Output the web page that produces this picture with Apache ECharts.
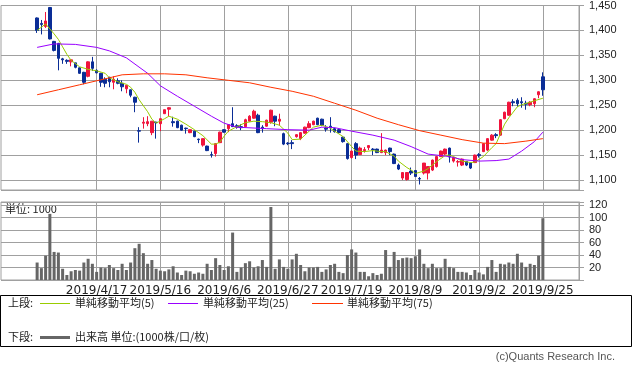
<!DOCTYPE html>
<html><head><meta charset="utf-8">
<script src="https://cdn.jsdelivr.net/npm/echarts@6/dist/echarts.min.js"></script>
<style>html,body{margin:0;padding:0;background:#fff}#c{width:633px;height:374px}</style>
</head><body><div id="c"></div>
<script>
const dates = ['2019/3/28','2019/3/29','2019/4/1','2019/4/2','2019/4/3','2019/4/4','2019/4/5','2019/4/8','2019/4/9','2019/4/10','2019/4/11','2019/4/12','2019/4/15','2019/4/16','2019/4/17','2019/4/18','2019/4/19','2019/4/22','2019/4/23','2019/4/24','2019/4/25','2019/4/26','2019/5/7','2019/5/8','2019/5/9','2019/5/10','2019/5/13','2019/5/14','2019/5/15','2019/5/16','2019/5/17','2019/5/20','2019/5/21','2019/5/22','2019/5/23','2019/5/24','2019/5/27','2019/5/28','2019/5/29','2019/5/30','2019/5/31','2019/6/3','2019/6/4','2019/6/5','2019/6/6','2019/6/7','2019/6/10','2019/6/11','2019/6/12','2019/6/13','2019/6/14','2019/6/17','2019/6/18','2019/6/19','2019/6/20','2019/6/21','2019/6/24','2019/6/25','2019/6/26','2019/6/27','2019/6/28','2019/7/1','2019/7/2','2019/7/3','2019/7/4','2019/7/5','2019/7/8','2019/7/9','2019/7/10','2019/7/11','2019/7/12','2019/7/16','2019/7/17','2019/7/18','2019/7/19','2019/7/22','2019/7/23','2019/7/24','2019/7/25','2019/7/26','2019/7/29','2019/7/30','2019/7/31','2019/8/1','2019/8/2','2019/8/5','2019/8/6','2019/8/7','2019/8/8','2019/8/9','2019/8/13','2019/8/14','2019/8/15','2019/8/16','2019/8/19','2019/8/20','2019/8/21','2019/8/22','2019/8/23','2019/8/26','2019/8/27','2019/8/28','2019/8/29','2019/8/30','2019/9/2','2019/9/3','2019/9/4','2019/9/5','2019/9/6','2019/9/9','2019/9/10','2019/9/11','2019/9/12','2019/9/13','2019/9/17','2019/9/18','2019/9/19','2019/9/20','2019/9/24','2019/9/25'];

const opens = [1425,1414,1408,1446,1378,1374,1343,1340,1337,1335,1325,1316,1308,1337,1320,1314,1302,1306,1296,1299,1294,1283,1281,1266,1199,1214,1213,1195,1216,1213,1233,1242,1217,1218,1210,1204,1195,1198,1182,1170,1168,1151,1153,1175,1201,1203,1213,1209,1207,1207,1218,1224,1230,1206,1208,1216,1228,1218,1193,1174,1175,1187,1183,1194,1205,1211,1224,1222,1204,1208,1203,1201,1186,1173,1145,1173,1151,1159,1165,1162,1162,1155,1155,1164,1152,1130,1104,1101,1118,1119,1103,1114,1114,1120,1127,1147,1152,1164,1138,1136,1130,1137,1134,1135,1151,1157,1160,1180,1191,1190,1223,1230,1257,1260,1257,1254,1251,1253,1271,1307];

const closes = [1400,1412,1419,1383,1360,1344,1341,1338,1341,1326,1314,1296,1337,1324,1315,1296,1294,1297,1302,1294,1287,1290,1270,1256,1198,1216,1217,1218,1215,1223,1241,1245,1215,1205,1200,1203,1201,1187,1181,1183,1159,1150,1173,1196,1196,1211,1207,1206,1205,1221,1228,1238,1195,1203,1220,1240,1218,1222,1172,1173,1173,1191,1195,1206,1213,1218,1211,1210,1202,1205,1197,1195,1177,1143,1158,1150,1164,1161,1169,1161,1155,1160,1160,1157,1133,1122,1115,1115,1114,1107,1102,1134,1127,1140,1147,1158,1162,1146,1145,1137,1142,1130,1124,1150,1149,1173,1183,1190,1189,1221,1236,1256,1255,1253,1255,1252,1256,1263,1277,1281];

const lows = [1395,1392,1405,1382,1358,1320,1333,1333,1328,1324,1313,1292,1306,1319,1314,1287,1286,1286,1282,1292,1278,1274,1266,1236,1175,1203,1208,1190,1183,1198,1233,1228,1207,1204,1199,1193,1194,1186,1174,1167,1158,1145,1147,1174,1195,1196,1207,1203,1200,1206,1217,1223,1194,1195,1207,1213,1208,1209,1170,1170,1162,1185,1180,1193,1204,1210,1210,1208,1197,1195,1195,1194,1175,1141,1143,1142,1150,1155,1160,1150,1154,1154,1150,1150,1132,1120,1100,1099,1110,1106,1091,1111,1101,1118,1125,1146,1150,1135,1135,1127,1128,1128,1122,1134,1145,1156,1158,1179,1184,1189,1222,1229,1248,1247,1245,1241,1248,1246,1264,1269];

const highs = [1426,1421,1437,1447,1379,1375,1345,1342,1342,1335,1326,1317,1338,1347,1322,1315,1306,1307,1308,1304,1300,1290,1281,1267,1206,1226,1228,1218,1217,1223,1241,1246,1227,1219,1211,1205,1201,1199,1183,1183,1169,1157,1174,1197,1202,1211,1246,1212,1212,1223,1230,1241,1233,1210,1221,1241,1229,1233,1195,1176,1180,1192,1196,1207,1218,1219,1225,1223,1210,1226,1205,1203,1187,1174,1159,1176,1167,1166,1170,1164,1163,1194,1161,1165,1153,1133,1116,1116,1125,1120,1106,1134,1128,1141,1148,1159,1163,1165,1147,1140,1143,1138,1135,1151,1154,1174,1184,1192,1194,1222,1237,1257,1262,1264,1266,1259,1258,1264,1278,1316];

const volumes = [28,19,39,106,45,44,18,8,14,16,15,28,34,26,13,20,19,24,19,16,26,16,28,51,58,43,26,32,18,15,14,17,22,12,8,15,14,10,12,10,26,16,35,24,16,22,76,13,20,27,30,20,22,32,21,117,18,33,21,18,33,42,24,14,20,20,21,13,17,24,26,13,11,40,49,44,13,13,6,11,8,10,48,21,45,32,35,36,35,38,49,26,19,26,19,19,34,21,19,13,13,12,8,16,12,9,21,32,13,26,25,28,26,42,28,21,26,24,39,99];

// moving averages: [day index, value]
const ma5Points = [[0,1400],[2,1413],[4,1393],[5,1382],[6,1367],[7,1352],[8,1340],[10,1327],[12,1322],[14,1319],[16,1314],[17,1305],[19,1297],[21,1292],[22,1286],[23,1276],[24,1261],[26,1237],[27,1222],[28,1214],[30,1223],[31,1228],[33,1222],[35,1212],[37,1201],[39,1189],[41,1172],[42,1172],[43,1176],[44,1188],[45,1198],[47,1207],[49,1215],[51,1218],[53,1217],[55,1215],[57,1210],[59,1194],[60,1181],[62,1182],[63,1190],[65,1206],[67,1210],[69,1204],[70,1198],[72,1187],[74,1167],[75,1158],[77,1157],[79,1159],[81,1157],[82,1157],[84,1148],[85,1138],[87,1125],[88,1120],[89,1113],[91,1118],[92,1123],[94,1137],[96,1149],[97,1150],[98,1147],[100,1138],[102,1135],[103,1136],[105,1147],[107,1165],[108,1173],[110,1212],[111,1225],[113,1247],[114,1251],[116,1256],[117,1259],[119,1264]];
const ma25Points = [[0,1366],[4,1373],[9,1372],[14,1366],[17,1359],[21,1345],[26,1314],[29,1289],[33,1268],[37,1248],[41,1228],[44,1214],[47,1206],[54,1203],[59,1201],[64,1200],[67,1206],[70,1205],[74,1198],[79,1190],[84,1180],[88,1167],[92,1152],[97,1147],[100,1141],[104,1138],[108,1139],[111,1142],[114,1158],[117,1177],[119,1196]];
const ma75Points = [[0,1271],[5,1281],[10,1291],[15,1301],[20,1311],[25,1313],[30,1313],[35,1311],[40,1305],[45,1300],[50,1295],[55,1286],[60,1278],[65,1268],[70,1254],[75,1240],[80,1224],[85,1211],[90,1199],[95,1190],[100,1181],[105,1174],[110,1173],[115,1178],[119,1183]];

const dateLabels = ['2019/4/17','2019/5/16','2019/6/6','2019/6/27','2019/7/19','2019/8/9','2019/9/2','2019/9/25'];

const legendTexts = ['上段:', '単純移動平均(5)', '単純移動平均(25)', '単純移動平均(75)', '下段:', '出来高 単位:(1000株/口/枚)'];

// ---- build ----
const PAD_L = 8, PAD_R = 8;
const cats = [];
for (let i = 0; i < PAD_L; i++) cats.push('pre' + i);
dates.forEach(d => cats.push(d));
for (let i = 0; i < PAD_R; i++) cats.push('post' + i);
const labelSet = new Set(dateLabels);
const showAt = (idx) => labelSet.has(cats[idx]);

const candleData = dates.map((d, i) => [i + PAD_L, opens[i], closes[i], lows[i], highs[i]]);
const volData = volumes.map((v, i) => [i + PAD_L, v]);
const shift = pts => pts.map(p => [p[0] + PAD_L, p[1]]);

const GRID = '#a0a0a0';
const UP = '#f0143c', DOWN = '#0a2d96';
const CJK = '"Noto Sans CJK JP", sans-serif';

const chart = echarts.init(document.getElementById('c'), null, {renderer: 'canvas'});
const option = {
  animation: false,
  backgroundColor: '#fff',
  textStyle: {fontFamily: CJK},
  grid: [
    {left: 1, right: 54, top: 4, height: 186, show: true, borderColor: GRID, borderWidth: 1, backgroundColor: 'transparent'},
    {left: 1, right: 54, top: 202, height: 78, show: true, borderColor: GRID, borderWidth: 1, backgroundColor: 'transparent'}
  ],
  xAxis: [
    {type: 'category', gridIndex: 0, data: cats, boundaryGap: true,
     axisLine: {show: false}, axisTick: {show: false}, axisLabel: {show: false},
     splitLine: {show: true, interval: showAt, alignWithLabel: true, lineStyle: {color: GRID, width: 1}}},
    {type: 'category', gridIndex: 1, data: cats, boundaryGap: true,
     axisLine: {show: false}, axisTick: {show: false},
     axisLabel: {show: true, interval: showAt, margin: 5, fontSize: 12, color: '#222', fontFamily: 'DejaVu Sans'},
     splitLine: {show: true, interval: showAt, alignWithLabel: true, lineStyle: {color: GRID, width: 1}}}
  ],
  yAxis: [
    {type: 'value', gridIndex: 0, position: 'right', min: 1080, max: 1450, splitNumber: 7,
     axisLine: {show: true, lineStyle: {color: GRID}},
     axisTick: {show: true, length: 5, lineStyle: {color: GRID}},
     axisLabel: {margin: 10, fontSize: 11, color: '#222', fontFamily: 'Liberation Sans',
       formatter: v => (v % 50 === 0 ? v.toLocaleString('en-US') : '')},
     splitLine: {show: true, lineStyle: {color: GRID, width: 1}}},
    {type: 'value', gridIndex: 1, position: 'right', min: 0, max: 125, interval: 20,
     axisLine: {show: true, lineStyle: {color: GRID}},
     axisTick: {show: true, length: 5, lineStyle: {color: GRID}},
     axisLabel: {margin: 10, fontSize: 11, color: '#222', fontFamily: 'Liberation Sans',
       formatter: v => (v > 0 && v % 20 === 0 ? String(v) : '')},
     splitLine: {show: true, lineStyle: {color: GRID, width: 1}}}
  ],
  series: [
    {type: 'candlestick', xAxisIndex: 0, yAxisIndex: 0, data: candleData,
     encode: {x: 0, y: [1, 2, 3, 4]}, barWidth: 3, z: 2,
     itemStyle: {color: UP, color0: DOWN, borderColor: UP, borderColor0: DOWN, borderWidth: 1}},
    {type: 'line', name: 'ma5', xAxisIndex: 0, yAxisIndex: 0, data: shift(ma5Points), showSymbol: false, z: 3,
     lineStyle: {color: '#99cc00', width: 1}},
    {type: 'line', name: 'ma25', xAxisIndex: 0, yAxisIndex: 0, data: shift(ma25Points), showSymbol: false, z: 3,
     lineStyle: {color: '#9900ff', width: 1}},
    {type: 'line', name: 'ma75', xAxisIndex: 0, yAxisIndex: 0, data: shift(ma75Points), showSymbol: false, z: 3,
     lineStyle: {color: '#ff3300', width: 1}},
    {type: 'bar', xAxisIndex: 1, yAxisIndex: 1, data: volData, barWidth: 3, itemStyle: {color: '#666666'}}
  ],
  graphic: [
    {type: 'text', left: 5, top: 203, style: {text: '単位: 1000', font: '11px ' + CJK, fill: '#222'}},
    {type: 'rect', shape: {x: 0.5, y: 295.5, width: 631, height: 51}, style: {fill: 'none', stroke: '#000', lineWidth: 1}},
    {type: 'text', x: 8, y: 303, style: {text: legendTexts[0], font: '11px ' + CJK, fill: '#222', verticalAlign: 'middle'}},
    {type: 'line', shape: {x1: 40, y1: 303.5, x2: 70, y2: 303.5}, style: {stroke: '#99cc00', lineWidth: 1}},
    {type: 'text', x: 75, y: 303, style: {text: legendTexts[1], font: '11px ' + CJK, fill: '#222', verticalAlign: 'middle'}},
    {type: 'line', shape: {x1: 168, y1: 303.5, x2: 198, y2: 303.5}, style: {stroke: '#9900ff', lineWidth: 1}},
    {type: 'text', x: 203, y: 303, style: {text: legendTexts[2], font: '11px ' + CJK, fill: '#222', verticalAlign: 'middle'}},
    {type: 'line', shape: {x1: 312, y1: 303.5, x2: 343, y2: 303.5}, style: {stroke: '#ff3300', lineWidth: 1}},
    {type: 'text', x: 347, y: 303, style: {text: legendTexts[3], font: '11px ' + CJK, fill: '#222', verticalAlign: 'middle'}},
    {type: 'text', x: 8, y: 337, style: {text: legendTexts[4], font: '11px ' + CJK, fill: '#222', verticalAlign: 'middle'}},
    {type: 'line', shape: {x1: 40, y1: 337.5, x2: 70, y2: 337.5}, style: {stroke: '#666666', lineWidth: 3}},
    {type: 'text', x: 75, y: 337, style: {text: legendTexts[5], font: '11px ' + CJK, fill: '#222', verticalAlign: 'middle'}},
    {type: 'text', x: 615, y: 357, style: {text: '(c)Quants Research Inc.', font: '11px "Liberation Sans", sans-serif', fill: '#555', align: 'right', verticalAlign: 'middle'}}
  ]
};
chart.setOption(option);
</script>
</body></html>
